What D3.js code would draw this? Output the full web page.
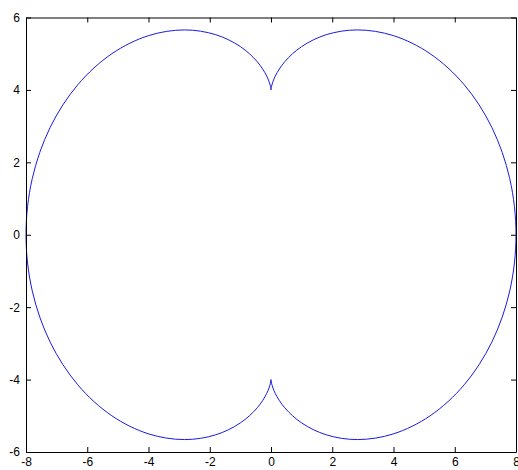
<!DOCTYPE html>
<html>
<head>
<meta charset="utf-8">
<script src="https://cdn.jsdelivr.net/npm/d3@7/dist/d3.min.js"></script>
<style>
  html, body { margin: 0; padding: 0; background: #fff; }
  svg { display: block; }
  text { font-family: "Liberation Sans", Arial, sans-serif; font-size: 12px; fill: #000; }
</style>
</head>
<body>
<svg id="chart" width="518" height="470"></svg>
<script>
// Curve samples: right lobe from the upper cusp round to the lower cusp
const rightX = [0, 0.0178, 0.1387, 0.4483, 1.0, 1.8048, 2.8284, 3.9948, 5.1962, 6.3086, 7.2098, 7.7964, 8,
                7.7964, 7.2098, 6.3086, 5.1962, 3.9948, 2.8284, 1.8048, 1.0, 0.4483, 0.1387, 0.0178, 0];
const rightY = [4, 4.1009, 4.3813, 4.7779, 5.1962, 5.5255, 5.6569, 5.5003, 5.0, 4.1439, 2.9671, 1.5485, 0,
                -1.5485, -2.9671, -4.1439, -5.0, -5.5003, -5.6569, -5.5255, -5.1962, -4.7779, -4.3813, -4.1009, -4];
// Left lobe, the mirror image
const leftX = [0, -0.0178, -0.1387, -0.4483, -1.0, -1.8048, -2.8284, -3.9948, -5.1962, -6.3086, -7.2098, -7.7964, -8,
               -7.7964, -7.2098, -6.3086, -5.1962, -3.9948, -2.8284, -1.8048, -1.0, -0.4483, -0.1387, -0.0178, 0];
const leftY = [4, 4.1009, 4.3813, 4.7779, 5.1962, 5.5255, 5.6569, 5.5003, 5.0, 4.1439, 2.9671, 1.5485, 0,
               -1.5485, -2.9671, -4.1439, -5.0, -5.5003, -5.6569, -5.5255, -5.1962, -4.7779, -4.3813, -4.1009, -4];

const xTicks = [-8, -6, -4, -2, 0, 2, 4, 6, 8];
const yTicks = [-6, -4, -2, 0, 2, 4, 6];

const svg = d3.select("#chart");
const plotLeft = 26, plotRight = 516, plotTop = 17.5, plotBottom = 452;

const x = d3.scaleLinear().domain([-8, 8]).range([plotLeft, plotRight]);
const y = d3.scaleLinear().domain([-6, 6]).range([plotBottom, plotTop]);

const line = d3.line().x(d => x(d[0])).y(d => y(d[1])).curve(d3.curveCatmullRom.alpha(0.5));

[[rightX, rightY], [leftX, leftY]].forEach(([xs, ys]) => {
  svg.append("path")
    .datum(xs.map((v, i) => [v, ys[i]]))
    .attr("d", line)
    .attr("fill", "none")
    .attr("stroke", "#1a1ae0")
    .attr("stroke-width", 1);
});

// Box axes with inward ticks
const tickLen = 5;
const gBottom = svg.append("g").attr("transform", `translate(0,${plotBottom})`)
  .call(d3.axisBottom(x).tickValues(xTicks).tickSizeInner(-tickLen).tickSizeOuter(0).tickPadding(5));
const gTop = svg.append("g").attr("transform", `translate(0,${plotTop})`)
  .call(d3.axisTop(x).tickValues(xTicks).tickSizeInner(-tickLen).tickSizeOuter(0).tickFormat(""));
const gLeft = svg.append("g").attr("transform", `translate(${plotLeft},0)`)
  .call(d3.axisLeft(y).tickValues(yTicks).tickSizeInner(-tickLen).tickSizeOuter(0).tickPadding(6));
const gRight = svg.append("g").attr("transform", `translate(${plotRight},0)`)
  .call(d3.axisRight(y).tickValues(yTicks).tickSizeInner(-tickLen).tickSizeOuter(0).tickFormat(""));

[gBottom, gTop, gLeft, gRight].forEach(g => {
  g.selectAll("path.domain").attr("stroke", "#000").attr("stroke-width", 1);
  g.selectAll(".tick line").attr("stroke", "#000");
  g.selectAll("text").attr("font-family", "Liberation Sans, Arial, sans-serif").attr("font-size", 12).attr("fill", "#000");
});
gBottom.selectAll("text").text(d => d < 0 ? "-" + Math.abs(d) : d);
gLeft.selectAll("text").text(d => d < 0 ? "-" + Math.abs(d) : d);
</script>
</body>
</html>
